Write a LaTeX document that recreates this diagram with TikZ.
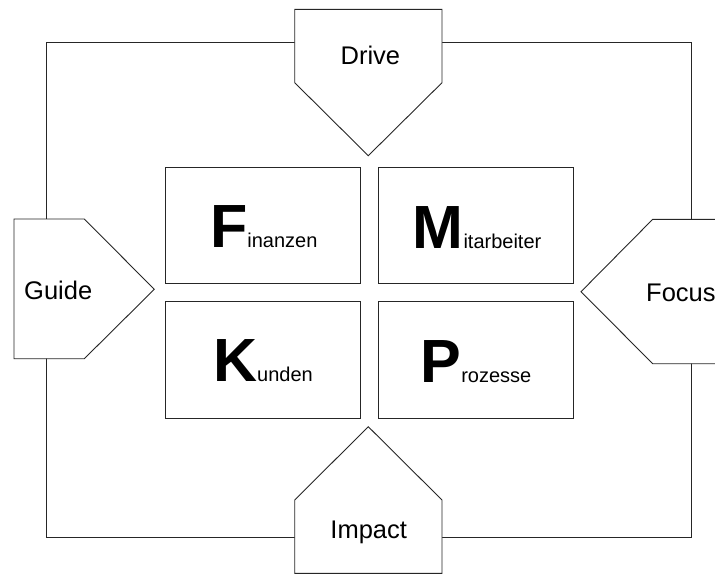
\documentclass[tikz,border=0pt]{standalone}
\usepackage{fontspec}
\setmainfont{Liberation Sans}
\newcommand\initialfont{\fontsize{61}{70}\selectfont\bfseries}
\newcommand\tailfont{\fontsize{20}{24}\selectfont}
\begin{document}
\begin{tikzpicture}[x=1pt,y=-1pt,
  edge/.style={draw=black!85, line width=0.9pt, line join=miter},
  plate/.style={edge, fill=white},
  box/.style={edge, fill=white, minimum width=195pt, minimum height=116.4pt, inner sep=0pt},
  label/.style={font=\fontsize{25.5}{30}\selectfont, inner sep=0pt},
  word/.style={inner sep=0pt, anchor=base}]
\useasboundingbox (0,0) rectangle (715,574);
\clip (0,0) rectangle (715,574);

% frame linking the four arrows
\draw[edge] (46.7,42.7) rectangle (691.7,537.3);

% four pointing plates
\draw[plate] (294.7,9.3) -- (442,9.3) -- (442,82.7) -- (368.3,155.7) -- (294.7,82.7) -- cycle;
\draw[plate] (14,219) -- (84.3,219) -- (154.3,289.3) -- (84.3,358.7) -- (14,358.7) -- cycle;
\draw[plate] (581,291.7) -- (652.7,219.3) -- (725,219.3) -- (725,363.7) -- (652.7,363.7) -- cycle;
\draw[plate] (294.7,573.3) -- (294.7,500) -- (368.3,426.7) -- (442,500) -- (442,573.3) -- cycle;

\node[label, anchor=base] (drive) at (370.4,64.3) {Drive};
\node[label, anchor=base] (guide) at (58.2,299.3) {Guide};
\node[label, anchor=base west] (focus) at (646,301.7) {Focus};
\node[label, anchor=base] (impact) at (368.7,538.3) {Impact};

% the four fields
\node[box] (fin) at (262.8,225.5) {};
\node[box] (mit) at (475.8,225.5) {};
\node[box] (kun) at (262.8,360) {};
\node[box] (pro) at (475.8,360) {};

\node[word] (tfin) at (263.8,247.7) {{\initialfont F}{\tailfont inanzen}};
\node[word] (tmit) at (477,248.3) {{\initialfont M}{\tailfont itarbeiter}};
\node[word] (tkun) at (263,381.7) {{\initialfont K}{\tailfont unden}};
\node[word] (tpro) at (476,382.3) {{\initialfont P}{\tailfont rozesse}};
\end{tikzpicture}
\end{document}
